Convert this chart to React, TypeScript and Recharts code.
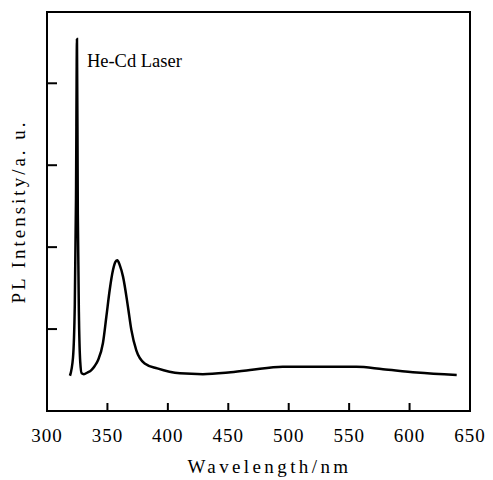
import { LineChart, Line, XAxis, YAxis, ReferenceArea, ReferenceDot } from 'recharts';

// PL spectrum (wavelength in nm, intensity in a.u.)
const wavelength = [
  319, 321.5, 323, 324, 324.8, 325.5, 326.5, 327.5, 328.7, 330.5, 333.5, 336.7, 339.5, 342.2, 346.3,
  349.1, 351.9, 354.6, 356.6, 358.2, 360.2, 362.9, 367, 369.8, 373.9, 380.8, 391.3, 410,
  429, 450, 468, 495, 523, 556, 578, 606, 639,
];
const intensity = [
  0.43, 0.65, 1.3, 2.6, 4.54, 2.4, 1.1, 0.6, 0.46, 0.45, 0.47, 0.5, 0.55, 0.62, 0.83,
  1.15, 1.48, 1.72, 1.82, 1.84, 1.78, 1.64, 1.27, 0.99, 0.74, 0.58, 0.52, 0.46,
  0.45, 0.47, 0.5, 0.54, 0.54, 0.54, 0.51, 0.47, 0.44,
];

const xTicks = [300, 350, 400, 450, 500, 550, 600, 650];
const yTicks = [1, 2, 3, 4];
const xDomain = [300, 650];
const yDomain = [0, 4.87];

const laserLabel = 'He-Cd Laser';
const laserLabelPos = { x: 333, y: 4.2 };

const data = wavelength.map((w, i) => ({ w, pl: intensity[i] }));

const serif = '"Liberation Serif", serif';

function XTick(props: any) {
  const { x, y, payload } = props;
  const edge = payload.value === xDomain[0] || payload.value === xDomain[1];
  return (
    <g>
      {!edge && <line x1={x} y1={y} x2={x} y2={y - 8} stroke="#000" strokeWidth={2} />}
      <text x={x} y={y + 31} textAnchor="middle" fontFamily={serif} fontSize={19} letterSpacing={1} fill="#000">
        {payload.value}
      </text>
    </g>
  );
}

function YTick(props: any) {
  const { x, y } = props;
  return <line x1={x} y1={y} x2={x + 10} y2={y} stroke="#000" strokeWidth={2} />;
}

function YTitle(props: any) {
  const vb = props.viewBox;
  const cy = vb.y + vb.height / 2;
  return (
    <text
      x={18}
      y={cy}
      transform={`rotate(-90 18 ${cy})`}
      textAnchor="middle"
      dominantBaseline="central"
      fontFamily={serif}
      fontSize={19}
      letterSpacing={3}
      fill="#000"
    >
      PL Intensity/a. u.
    </text>
  );
}

function XTitle(props: any) {
  const vb = props.viewBox;
  return (
    <text
      x={vb.x + vb.width / 2 + 11}
      y={473}
      textAnchor="middle"
      fontFamily={serif}
      fontSize={19}
      letterSpacing={3.4}
      fill="#000"
    >
      Wavelength/nm
    </text>
  );
}

function LaserText(props: any) {
  const vb = props.viewBox;
  return (
    <text x={vb.x} y={vb.y} fontFamily={serif} fontSize={18.5} fill="#000">
      {laserLabel}
    </text>
  );
}

export default function App() {
  return (
    <div style={{ position: 'absolute', left: 0, top: 0, background: '#fff' }}>
      <LineChart width={493} height={480} data={data} margin={{ top: 12, right: 23, bottom: 0, left: 0 }}>
        <XAxis
          dataKey="w"
          type="number"
          domain={xDomain}
          ticks={xTicks}
          height={69}
          tickSize={0}
          tickMargin={0}
          tickLine={false}
          axisLine={false}
          tick={<XTick />}
          label={<XTitle />}
        />
        <YAxis
          type="number"
          domain={yDomain}
          ticks={yTicks}
          width={47}
          tickSize={0}
          tickMargin={0}
          tickLine={false}
          axisLine={false}
          tick={<YTick />}
          label={<YTitle />}
        />
        <ReferenceArea
          x1={xDomain[0]}
          x2={xDomain[1]}
          y1={yDomain[0]}
          y2={yDomain[1]}
          fill="none"
          stroke="#000"
          strokeWidth={2}
        />
        <Line
          type="monotone"
          dataKey="pl"
          stroke="#000"
          strokeWidth={2.5}
          dot={false}
          isAnimationActive={false}
        />
        <ReferenceDot
          x={laserLabelPos.x}
          y={laserLabelPos.y}
          r={0}
          fill="none"
          stroke="none"
          label={<LaserText />}
        />
      </LineChart>
    </div>
  );
}
